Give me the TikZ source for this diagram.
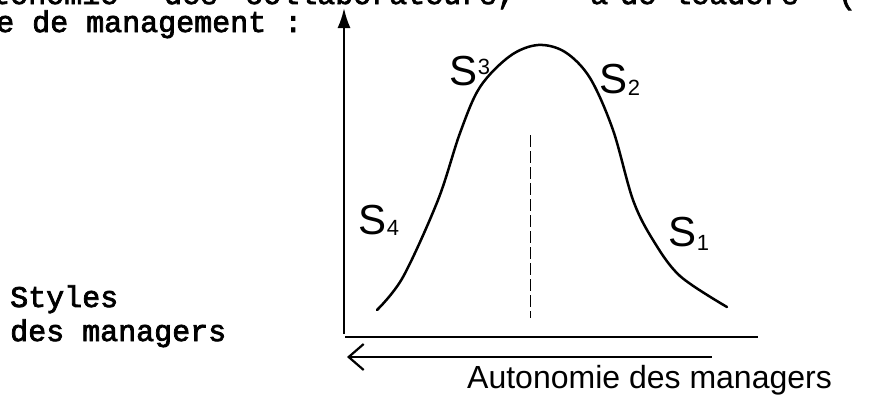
\documentclass[tikz,border=0pt]{standalone}
\usepackage{fontspec}
\setmonofont{Liberation Mono}[FakeBold=2.5]
\newfontfamily\handfont{Liberation Sans}
\usetikzlibrary{arrows.meta}

\tikzset{
  typed/.style={font=\ttfamily\fontsize{30}{34}\selectfont, anchor=base west, inner sep=0pt},
  hand/.style={font=\handfont\fontsize{42}{46}\selectfont, inner sep=0pt},
  axisline/.style={line width=2.2pt},
}
\newcommand{\Slab}[2]{S\raisebox{#2}{\fontsize{22}{22}\selectfont #1}}

\begin{document}
\begin{tikzpicture}[x=1pt,y=-1pt]
        \useasboundingbox (0,0) rectangle (869,397);
        % typed text (first line cut by the page)
        \foreach \w/\x [count=\i] in {autonomie/-44, des/164, {collaborateurs,}/245, à/590, de/620, leaders/673}
            \node[typed] (top\i) at (\x,4) {\w};
        \node[typed] (topparen) at (838,4) {(};
        \node[typed] (mgmt) at (-4,32) {e de management :};
        \node[typed] (styles) at (10,307) {Styles};
        \node[typed] (desmgr) at (10,341) {des managers};
        % axes
        \coordinate (ybot) at (344,334);
        \coordinate (ytop) at (344,8);
        \coordinate (xleft) at (345,337);
        \coordinate (xright) at (758,337);
        \coordinate (aleft) at (347,357);
        \coordinate (aright) at (712,357);
        \draw[axisline,-{Latex[length=20pt,width=13pt]}] (ybot)--(ytop);
        \draw[axisline] (xleft)--(xright);
        \draw[axisline,{Straight Barb[length=15pt,width=26pt]}-] (aleft)--(aright);
        % bell curve
        \draw[line width=2.5pt,line cap=round] plot[smooth,tension=0.55] coordinates
            {(377,310) (403,277) (438,200) (460,133) (480,87) (510,56) (538,45) (565,52) (590,78) (613,130) (633,200) (653,240) (680,276) (727,307)};
        \draw[line width=0.9pt,dash pattern=on 12pt off 4pt] (530,135)--(530,318);
        % styles
        \node[hand] (s3) at (470,71) {\Slab{3}{0.25em}};
        \node[hand] (s2) at (620,80) {\Slab{2}{-0.05em}};
        \node[hand] (s4) at (379,220) {\Slab{4}{-0.02em}};
        \node[hand] (s1) at (689,234) {\Slab{1}{-0.1em}};
        \node[hand,font=\handfont\fontsize{32}{36}\selectfont,anchor=base west] (auto) at (467,388) {Autonomie des managers};
    \end{tikzpicture}
\end{document}
